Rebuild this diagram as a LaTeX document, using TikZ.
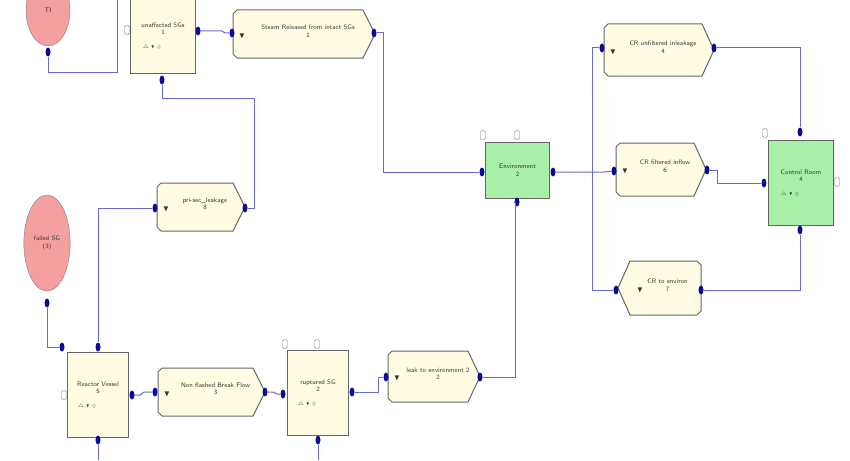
\documentclass[tikz,border=0pt]{standalone}
\usepackage{amssymb}
\usetikzlibrary{shapes.geometric}
\definecolor{cream}{HTML}{FFFCE3}
\definecolor{grn}{HTML}{A8F0A8}
\definecolor{pinkf}{HTML}{F4A0A0}
\definecolor{wire}{HTML}{6A6ACF}
\definecolor{portc}{HTML}{0A0A9A}
% right-pointing flow shape: name, x1,y1,x2,y2, label
\newcommand\hexR[6]{%
  \draw[hexline] (#2+4,#3) -- (#4-12,#3) -- (#4,{(#3+#5)/2}) -- (#4-12,#5) -- (#2+4,#5) -- (#2,#5-4) -- (#2,#3+4) -- cycle;
  \node[lbl] (#1) at ({(#2+#4)/2+4},{(#3+#5)/2-3}) {#6};
  \node[icn] at (#2+9,{(#3+#5)/2+2}) {$\blacktriangledown$};}
\newcommand\hexL[6]{%
  \draw[hexline] (#2+12,#3) -- (#4-4,#3) -- (#4,#3+4) -- (#4,#5-4) -- (#4-4,#5) -- (#2+12,#5) -- (#2,{(#3+#5)/2}) -- cycle;
  \node[lbl] (#1) at ({(#2+#4)/2+8},{(#3+#5)/2-3}) {#6};
  \node[icn] at (#2+22,{(#3+#5)/2+2}) {$\blacktriangledown$};}
\begin{document}
\begin{tikzpicture}[x=1pt,y=-1pt,
  lbl/.style={font=\fontsize{6.5}{7.5}\selectfont\sffamily,align=center,text=black!80},
  icn/.style={font=\fontsize{8}{8}\selectfont,text=black!80},
  hexline/.style={draw=black!60,line width=1pt,fill=cream},
  boxs/.style={draw=black!60,line width=1pt,fill=cream,lbl,anchor=north west,align=center},
  gbox/.style={boxs,fill=grn},
  ell/.style={ellipse,draw=black!50,fill=pinkf,lbl},
  port/.style={fill=portc,ellipse,inner sep=0pt,minimum width=5pt,minimum height=9pt},
  wires/.style={draw=wire,line width=1pt},
  notch/.style={draw=black!50,fill=white,inner sep=0pt,minimum width=5pt,minimum height=9pt,rounded corners=1.5pt}]
\useasboundingbox (0,0) rectangle (850,460);
\newcommand\icons{\hspace*{-22pt}$\scriptstyle\triangle\;\blacktriangledown\;\Diamond$}
% nodes
\node[ell,minimum width=44pt,minimum height=72pt] (ti) at (48,10) {TI};
\node[ell,minimum width=44pt,minimum height=96pt] (fsg) at (47,243) {failed SG\\(3)};
\node[notch] (n1) at (127,30) {};
\node[boxs,minimum width=65pt,minimum height=75pt] (usg) at (130,-2) {unaffected SGs\\1\\[6pt]\icons};
\hexR{steam}{233}{10}{375}{58}{Steam Released from intact SGs\\1}
\hexR{prisec}{157}{183}{245}{231}{pri-sec\_leakage\\8}
\node[notch] (n2) at (64,395) {};
\node[boxs,minimum width=61pt,minimum height=85pt] (rv) at (67,352) {Reactor Vessel\\5\\[6pt]\icons};
\hexR{nfb}{158}{368}{265}{416}{Non flashed Break Flow\\3}
\node[notch] (n3) at (285,344) {};
\node[notch] (n4) at (317,344) {};
\node[boxs,minimum width=61pt,minimum height=85pt] (rsg) at (287,350) {ruptured SG\\2\\[6pt]\icons};
\hexR{leak}{388}{351}{480}{402}{leak to environment 2\\2}
\node[notch] (n5) at (483,135) {};
\node[notch] (n6) at (517,135) {};
\node[gbox,minimum width=64pt,minimum height=56pt] (env) at (485,142) {Environment\\2};
\hexR{cru}{604}{24}{714}{76}{CR unfiltered inleakage\\4}
\hexR{crf}{616}{143}{706}{196}{CR filtered inflow\\6}
\hexL{cre}{618}{261}{701}{315}{CR to environ\\7}
\node[notch] (n7) at (765,133) {};
\node[notch] (n8) at (837,182) {};
\node[gbox,minimum width=65pt,minimum height=85pt] (cr) at (768,140) {Control Room\\4\\[6pt]\icons};
% ports
\node[port] (p1) at (48,52) {};
\node[port] (p2) at (198,31) {};
\node[port] (p3) at (232,33) {};
\node[port] (p4) at (374,33) {};
\node[port] (p5) at (162,80) {};
\node[port] (p6) at (155,208) {};
\node[port] (p7) at (245,208) {};
\node[port] (p8) at (47,303) {};
\node[port] (p9) at (62,347) {};
\node[port] (p10) at (98,347) {};
\node[port] (p11) at (132,395) {};
\node[port] (p12) at (98,440) {};
\node[port] (p13) at (155,392) {};
\node[port] (p14) at (265,392) {};
\node[port] (p15) at (283,394) {};
\node[port] (p16) at (352,392) {};
\node[port] (p17) at (318,440) {};
\node[port] (p18) at (386,377) {};
\node[port] (p19) at (480,377) {};
\node[port] (p20) at (482,172) {};
\node[port] (p21) at (553,172) {};
\node[port] (p22) at (517,202) {};
\node[port] (p23) at (602,48) {};
\node[port] (p24) at (714,48) {};
\node[port] (p25) at (614,171) {};
\node[port] (p26) at (707,170) {};
\node[port] (p27) at (764,183) {};
\node[port] (p28) at (800,132) {};
\node[port] (p29) at (800,230) {};
\node[port] (p30) at (616,290) {};
\node[port] (p31) at (701,290) {};
\coordinate (b1) at (98,460);
\coordinate (b2) at (318,460);
\coordinate (tt) at (117,0);
% wires
\begin{scope}[wires]
\draw (p1) -- (48,72) -| (tt);
\draw (p2) -- (222,31) -- (225,33) -- (p3);
\draw (p4) -- (383,33) |- (p20);
\draw (p5) -- (162,98) -| (254,208) -- (p7);
\draw (p6) -- (98,208) -- (p10);
\draw (p8) |- (p9);
\draw (p11) -- (140,395) -- (144,392) -- (p13);
\draw (p14) -- (273,392) -- (277,394) -- (p15);
\draw (p16) -- (378,392) |- (p18);
\draw (p19) -- (515,377) |- (p22);
\draw (p21) -- (604,172) -- (p25);
\draw (592,172) |- (p23);
\draw (592,172) |- (p30);
\draw (p24) -| (p28);
\draw (p26) -- (717,170) |- (p27);
\draw (p31) -| (p29);
\draw (p12) -- (b1);
\draw (p17) -- (b2);
\end{scope}
\end{tikzpicture}
\end{document}
